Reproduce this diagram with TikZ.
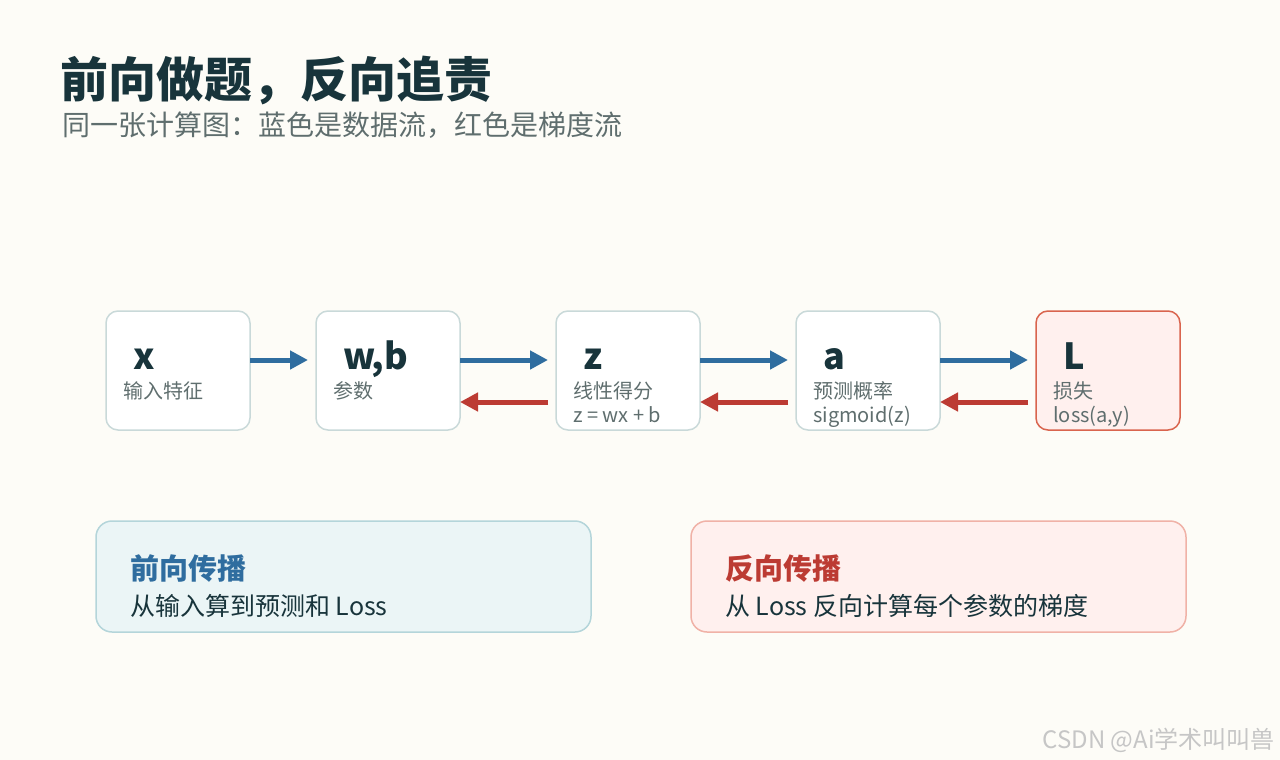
\documentclass[tikz,border=0pt]{standalone}
\usepackage{fontspec}
\setmainfont{Noto Sans CJK SC}
\usepackage{tikz}
\usetikzlibrary{positioning, arrows.meta}
\usepackage{xcolor}

\definecolor{paper}{HTML}{FDFCF7}
\definecolor{ink}{HTML}{18343B}
\definecolor{greytext}{HTML}{5F6E6E}
\definecolor{nodeedge}{HTML}{C9D9D9}
\definecolor{lossedge}{HTML}{D9644E}
\definecolor{lossfill}{HTML}{FFF0EE}
\definecolor{fwdblue}{HTML}{2F6D9F}
\definecolor{bwdred}{HTML}{BC3B33}
\definecolor{fwdfill}{HTML}{EBF5F6}
\definecolor{fwdedge}{HTML}{B4D5DA}
\definecolor{bwdfill}{HTML}{FFF0EE}
\definecolor{bwdedge}{HTML}{F0B2A7}
\definecolor{mark}{HTML}{C6C6C6}

\newcommand{\fs}[1]{\fontsize{#1}{#1}\selectfont}

\begin{document}
\begin{tikzpicture}[x=1pt, y=-1pt, node distance=96pt,
    stage/.style={draw=nodeedge, fill=white, line width=1.5pt, rounded corners=12pt,
      minimum width=144pt, minimum height=119pt, inner sep=0pt, outer sep=0pt},
    lossstage/.style={stage, draw=lossedge, fill=lossfill},
    symb/.style={anchor=base west, inner sep=0pt, text=ink, font=\bfseries\fs{36}},
    note/.style={anchor=base west, inner sep=0pt, text=greytext, font=\fs{20}},
    fwd/.style={draw=fwdblue, line width=5pt, -{Triangle[length=18pt, width=18pt]}},
    bwd/.style={draw=bwdred, line width=5pt, -{Triangle[length=18pt, width=18pt]}},
    panel/.style={line width=1.5pt, rounded corners=16pt, minimum width=495pt,
      minimum height=111pt, inner sep=0pt, outer sep=0pt, anchor=north west}]

  \fill[paper] (0,0) rectangle (1280,760);

  % heading
  \node[anchor=base west, inner sep=0pt, text=ink, font=\bfseries\fs{48}] (title) at (60,98)
    {前向做题，反向追责};
  \node[anchor=base west, inner sep=0pt, text=greytext, font=\fs{28}] (subtitle) at (62,135)
    {同一张计算图：蓝色是数据流，红色是梯度流};

  % computation graph
  \node[stage, anchor=north west] (x) at (106,311) {};
  \node[stage] (wb) [right=66pt of x] {};
  \node[stage] (z) [right=of wb] {};
  \node[stage] (a) [right=of z] {};
  \node[lossstage] (L) [right=of a] {};

  \foreach \n/\s/\t/\u in {x/x/输入特征/, wb/{w,b}/参数/, z/z/线性得分/{z = wx + b},
                           a/a/预测概率/sigmoid(z), L/L/损失/{loss(a,y)}} {
    \node[symb] (\n-sym) at ([shift={(27,58)}]\n.north west) {\s};
    \node[note] (\n-note) at ([shift={(17,87)}]\n.north west) {\t};
    \node[note] (\n-expr) at ([shift={(17,111)}]\n.north west) {\u};
  }

  \draw[fwd] ([yshift=10.5pt]x.east) -- ([xshift=-8pt, yshift=10.5pt]wb.west);
  \draw[fwd] ([yshift=10.5pt]wb.east) -- ([xshift=-8pt, yshift=10.5pt]z.west);
  \draw[fwd] ([yshift=10.5pt]z.east) -- ([xshift=-8pt, yshift=10.5pt]a.west);
  \draw[fwd] ([yshift=10.5pt]a.east) -- ([xshift=-8pt, yshift=10.5pt]L.west);

  \draw[bwd] ([xshift=-8pt, yshift=-31.5pt]z.west) -- ([yshift=-31.5pt]wb.east);
  \draw[bwd] ([xshift=-8pt, yshift=-31.5pt]a.west) -- ([yshift=-31.5pt]z.east);
  \draw[bwd] ([xshift=-8pt, yshift=-31.5pt]L.west) -- ([yshift=-31.5pt]a.east);

  % the two passes
  \node[panel, draw=fwdedge, fill=fwdfill] (fwdpanel) at (96,521) {};
  \node[panel, draw=bwdedge, fill=bwdfill] (bwdpanel) at (691,521) {};

  \node[anchor=base west, inner sep=0pt, text=fwdblue, font=\bfseries\fs{29}] (fwdhead)
    at ([shift={(34,58)}]fwdpanel.north west) {前向传播};
  \node[anchor=base west, inner sep=0pt, text=ink, font=\fs{25}] (fwdtext)
    at ([shift={(34,94)}]fwdpanel.north west) {从输入算到预测和 Loss};
  \node[anchor=base west, inner sep=0pt, text=bwdred, font=\bfseries\fs{29}] (bwdhead)
    at ([shift={(34,58)}]bwdpanel.north west) {反向传播};
  \node[anchor=base west, inner sep=0pt, text=ink, font=\fs{25}] (bwdtext)
    at ([shift={(34,94)}]bwdpanel.north west) {从 Loss 反向计算每个参数的梯度};

  \node[anchor=base east, inner sep=0pt, text=mark, font=\fs{24}] (credit) at (1275,748)
    {CSDN @Ai学术叫叫兽};
\end{tikzpicture}
\end{document}
